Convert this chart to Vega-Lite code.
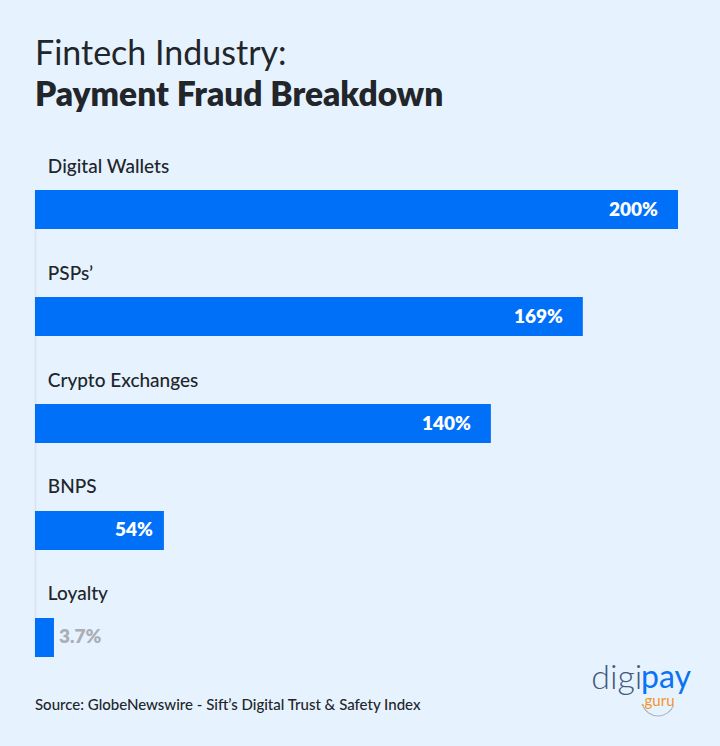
{
  "$schema": "https://vega.github.io/schema/vega-lite/v6.json",
  "width": 720,
  "height": 746,
  "autosize": {"type": "none"},
  "padding": 0,
  "background": "#e6f3ff",
  "config": {"view": {"stroke": null}, "font": "Lato"},
  "title": {
    "text": "Fintech Industry:",
    "subtitle": "Payment Fraud Breakdown",
    "anchor": "start",
    "frame": "group",
    "orient": "top",
    "offset": 0,
    "dx": 35,
    "dy": 139,
    "baseline": "alphabetic",
    "font": "Lato",
    "fontSize": 34,
    "fontWeight": 400,
    "color": "#222529",
    "subtitleFont": "Lato",
    "subtitleFontSize": 33.5,
    "subtitleFontWeight": 800,
    "subtitleColor": "#222529",
    "subtitlePadding": 7
  },
  "layer": [
    {
      "data": {
        "values": [
          {"category": "Digital Wallets", "label": "200%", "length": 200},
          {"category": "PSPs’", "label": "169%", "length": 170.4},
          {"category": "Crypto Exchanges", "label": "140%", "length": 141.8},
          {"category": "BNPS", "label": "54%", "length": 40.1},
          {"category": "Loyalty", "label": "3.7%", "length": 5.9}
        ]
      },
      "encoding": {
        "x": {
          "field": "length",
          "type": "quantitative",
          "axis": null,
          "scale": {"domain": [0, 200], "range": [35, 678], "nice": false}
        },
        "y": {
          "field": "category",
          "type": "nominal",
          "sort": null,
          "title": null,
          "scale": {"range": [190, 657], "paddingInner": 0.6355, "paddingOuter": 0},
          "axis": {"labels": false, "ticks": false, "grid": false, "domainColor": "#dbe5f1", "domainWidth": 2, "offset": -35}
        }
      },
      "layer": [
        {"mark": {"type": "bar", "color": "#0070f9"}},
        {
          "mark": {"type": "text", "align": "left", "dy": -43, "fontSize": 19, "fontWeight": 500, "color": "#222529"},
          "encoding": {"x": {"datum": 4}, "text": {"field": "category"}}
        },
        {
          "transform": [{"filter": "datum.length > 100"}],
          "mark": {"type": "text", "align": "right", "xOffset": -20, "fontSize": 19, "fontWeight": 800, "color": "white"},
          "encoding": {"text": {"field": "label"}}
        },
        {
          "transform": [{"filter": "datum.label === '54%'"}],
          "mark": {"type": "text", "align": "right", "xOffset": -11, "fontSize": 19, "fontWeight": 800, "color": "white"},
          "encoding": {"text": {"field": "label"}}
        },
        {
          "transform": [{"filter": "datum.label === '3.7%'"}],
          "mark": {"type": "text", "align": "left", "xOffset": 5, "fontSize": 19, "fontWeight": 800, "color": "#aaaeb6"},
          "encoding": {"text": {"field": "label"}}
        }
      ]
    },
    {
      "data": {"values": [{"note": "Source: GlobeNewswire - Sift’s Digital Trust & Safety Index"}]},
      "encoding": {
        "y": {"datum": 705, "scale": {"domain": [0, 746], "range": [0, 746]}, "axis": null}
      },
      "layer": [
        {
          "mark": {"type": "text", "align": "left", "fontSize": 15, "fontWeight": 500, "color": "#222529"},
          "encoding": {"x": {"datum": 0}, "text": {"field": "note"}}
        },
        {
          "mark": {"type": "text", "align": "left", "font": "Lato", "fontSize": 34, "fontWeight": 300, "color": "#44597a"},
          "encoding": {"x": {"datum": 173}, "y": {"datum": 679}, "text": {"value": "digi"}}
        },
        {
          "mark": {"type": "text", "align": "left", "font": "Lato", "fontSize": 32, "fontWeight": 400, "color": "#0a72f5"},
          "encoding": {"x": {"datum": 188.5}, "y": {"datum": 678}, "text": {"value": "pay"}}
        },
        {
          "mark": {"type": "text", "align": "left", "font": "Lato", "fontSize": 15, "fontWeight": 400, "color": "#f7941d"},
          "encoding": {"x": {"datum": 188.5}, "y": {"datum": 701}, "text": {"value": ".guru"}}
        },
        {
          "mark": {"type": "arc", "innerRadius": 16, "outerRadius": 17, "theta": 1.91, "theta2": 4.37, "color": "#a9b3c2"},
          "encoding": {"x": {"datum": 193.8}, "y": {"datum": 699.5}}
        }
      ]
    }
  ],
  "resolve": {"scale": {"y": "independent"}}
}
